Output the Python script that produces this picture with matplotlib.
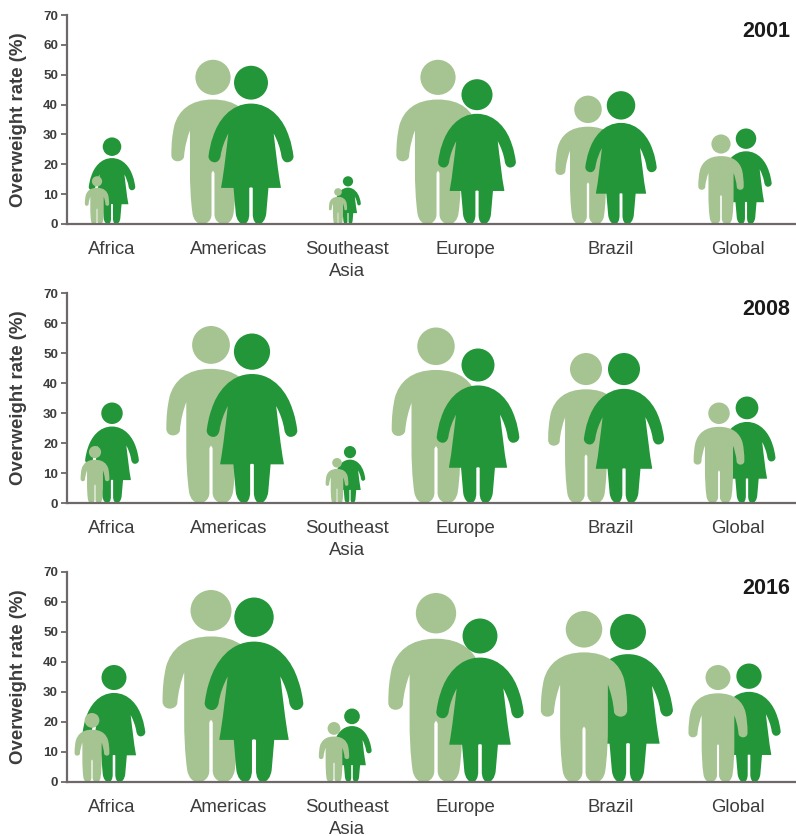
import matplotlib
matplotlib.use("Agg")
import matplotlib.pyplot as plt
from matplotlib.path import Path
from matplotlib.patches import PathPatch
from matplotlib.transforms import Affine2D

plt.rcParams['font.family'] = ['Liberation Sans', 'DejaVu Sans']

regions = ['Africa', 'Americas', 'Southeast\nAsia', 'Europe', 'Brazil', 'Global']
years = ['2001', '2008', '2016']

# Overweight rate (%)
male_2001 = [16, 55, 12, 55, 43, 30]
female_2001 = [29, 53, 16, 48.5, 44.5, 32]
male_2008 = [19, 59, 15, 58.5, 50, 33.5]
female_2008 = [33.5, 56.5, 19, 51.5, 50, 35.5]
male_2016 = [23, 64, 20, 63, 57, 39]
female_2016 = [39, 61.5, 24.5, 54.5, 56, 39.5]

# Layout: horizontal axis is in reference pixels
label_x = [112, 229, 347, 465, 611, 738]
male_x_2001 = [97, 213, 338, 438, 588, 721]
female_x_2001 = [112, 251, 348, 477, 621, 746]
male_x_2008 = [95, 211, 337, 436, 586, 719]
female_x_2008 = [112, 252, 350, 478, 624, 747]
male_x_2016 = [92, 211, 334, 436, 584, 718]
female_x_2016 = [114, 254, 352, 480, 628, 749]
female_in_front_2001 = [0, 1, 0, 1, 1, 0]
female_in_front_2008 = [0, 1, 0, 1, 1, 0]
female_in_front_2016 = [0, 1, 0, 1, 0, 0]

LIGHT = '#a6c491'
DARK = '#239639'
AXIS = '#6e6868'
TEXT = '#3c3c3c'
W, H = 796, 836
PANELS = [(15, 224), (293, 503), (572, 782)]
PX_PER_UNIT = 209.5 / 70


def person(half, head_y, head_r):
    """half: (start, segments) outline from crotch to shoulder top, x<0; mirrored."""
    start, segs = half
    verts = [start]
    codes = [Path.MOVETO]
    for seg in segs:
        verts += seg
        codes += [Path.LINETO] if len(seg) == 1 else [Path.CURVE4] * 3
    rev = verts[::-1][1:]
    rev_codes = codes[1:][::-1]
    verts2 = verts + [(-x, y) for x, y in rev]
    codes2 = codes + rev_codes
    verts2.append(start)
    codes2.append(Path.CLOSEPOLY)
    body = Path(verts2, codes2)
    head = Path.unit_circle().transformed(Affine2D().scale(head_r).translate(0, head_y))
    return Path.make_compound_path(body, head)


male_shape = person(((0, 0.325), [
    [(-0.009, 0.31)],
    [(-0.009, 0.06)],
    [(-0.009, 0.022), (-0.035, 0.0), (-0.066, 0.0)],
    [(-0.097, 0.0), (-0.116, 0.022), (-0.124, 0.06)],
    [(-0.137, 0.15), (-0.14, 0.25), (-0.14, 0.32)],
    [(-0.14, 0.57)],
    [(-0.155, 0.53), (-0.172, 0.47), (-0.176, 0.41)],
    [(-0.178, 0.395), (-0.195, 0.382), (-0.215, 0.382)],
    [(-0.235, 0.382), (-0.253, 0.395), (-0.253, 0.42)],
    [(-0.253, 0.49), (-0.248, 0.54), (-0.235, 0.60)],
    [(-0.21, 0.69), (-0.14, 0.758), (0, 0.758)],
]), 0.893, 0.107)

female_shape = person(((0, 0.232), [
    [(-0.011, 0.228)],
    [(-0.011, 0.065)],
    [(-0.011, 0.025), (-0.025, 0.0), (-0.047, 0.0)],
    [(-0.072, 0.0), (-0.09, 0.025), (-0.096, 0.065)],
    [(-0.11, 0.228)],
    [(-0.188, 0.228)],
    [(-0.188, 0.234)],
    [(-0.17, 0.33), (-0.155, 0.47), (-0.143, 0.572)],
    [(-0.165, 0.53), (-0.185, 0.48), (-0.192, 0.428)],
    [(-0.197, 0.405), (-0.21, 0.39), (-0.228, 0.39)],
    [(-0.25, 0.39), (-0.268, 0.405), (-0.268, 0.428)],
    [(-0.262, 0.47), (-0.255, 0.51), (-0.24, 0.55)],
    [(-0.21, 0.65), (-0.13, 0.761), (0, 0.761)],
]), 0.893, 0.107)

fig = plt.figure(figsize=(W / 100, H / 100), dpi=100)

series = [
    (male_2001, female_2001, male_x_2001, female_x_2001, female_in_front_2001),
    (male_2008, female_2008, male_x_2008, female_x_2008, female_in_front_2008),
    (male_2016, female_2016, male_x_2016, female_x_2016, female_in_front_2016),
]


def draw(ax, shape, x, v, color, z):
    tr = Affine2D().scale(v * PX_PER_UNIT, v).translate(x, 0) + ax.transData
    ax.add_patch(PathPatch(shape, facecolor=color, edgecolor='none', transform=tr, zorder=z, clip_on=False))


for (top, bottom), year, (m, f, mx, fx, ff) in zip(PANELS, years, series):
    ax = fig.add_axes([67 / W, 1 - bottom / H, (W - 67) / W, (bottom - top) / H])
    ax.set_xlim(67, W)
    ax.set_ylim(0, 70)
    for i in range(len(regions)):
        draw(ax, male_shape, mx[i], m[i], LIGHT, 3 if not ff[i] else 2)
        draw(ax, female_shape, fx[i], f[i], DARK, 3 if ff[i] else 2)
    ax.spines['top'].set_visible(False)
    ax.spines['right'].set_visible(False)
    for s in ('left', 'bottom'):
        ax.spines[s].set_color(AXIS)
        ax.spines[s].set_linewidth(1.6)
        ax.spines[s].set_zorder(4)
    ax.set_yticks(range(0, 71, 10))
    ax.tick_params(axis='y', length=4, width=1.3, color=AXIS, labelsize=9.6, labelcolor=TEXT, pad=2.5)
    for t in ax.get_yticklabels():
        t.set_fontweight('bold')
    ax.set_xticks(label_x)
    ax.set_xticklabels(regions, linespacing=1.38)
    ax.tick_params(axis='x', length=0, labelsize=13.4, labelcolor=TEXT, pad=12)
    ax.set_ylabel('Overweight rate (%)', fontsize=13.4, fontweight='bold', color=TEXT)
    ax.yaxis.set_label_coords((27 - 67) / (W - 67), 0.50)
    ax.text(790, 64.5, year, fontsize=15.5, fontweight='bold', color='#1a1a1a', ha='right', va='center')

fig.savefig('out.png', dpi=100, facecolor='white')
